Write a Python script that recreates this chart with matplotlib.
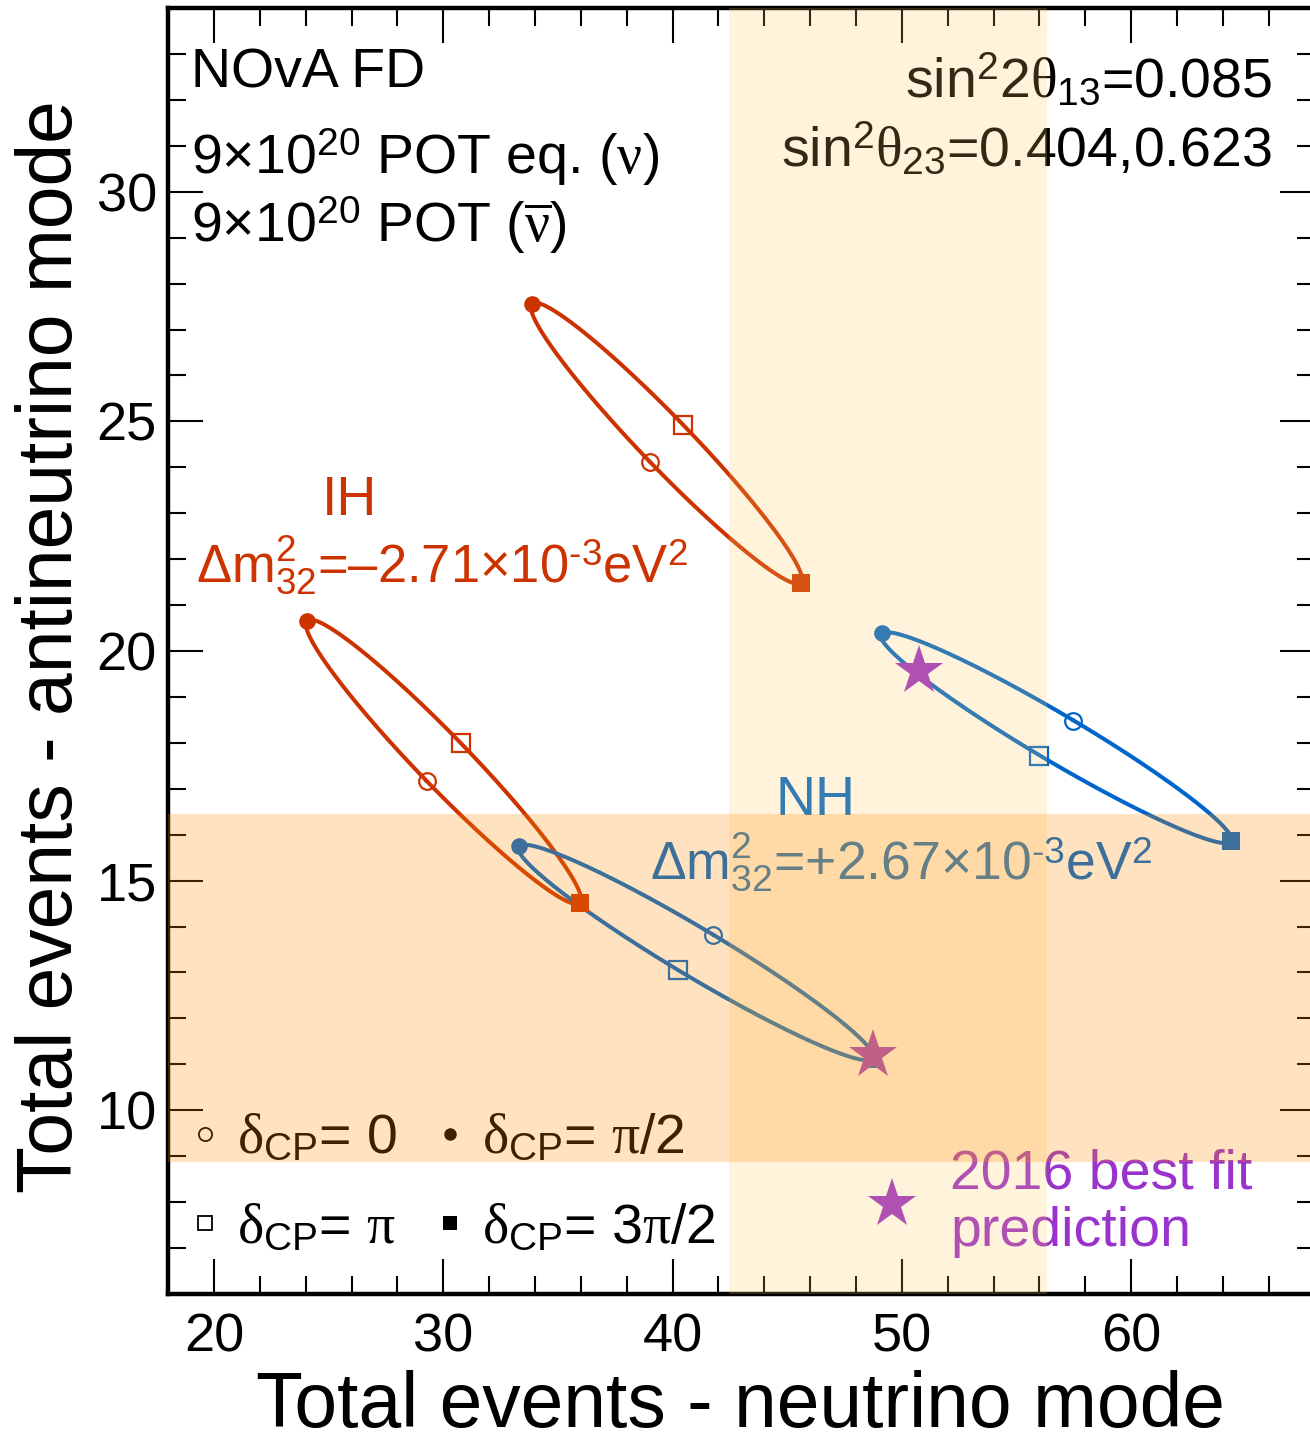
import numpy as np
import matplotlib
matplotlib.use("Agg")
import matplotlib.pyplot as plt
from matplotlib.lines import Line2D
from matplotlib.ticker import MultipleLocator

plt.rcParams['font.family'] = ['Liberation Sans', 'DejaVu Sans']
plt.rcParams['mathtext.fontset'] = 'custom'
plt.rcParams['mathtext.rm'] = 'Liberation Sans'
plt.rcParams['mathtext.sf'] = 'Liberation Sans'
plt.rcParams['mathtext.it'] = 'Liberation Serif'
plt.rcParams['mathtext.bf'] = 'Liberation Sans:bold'

# Predicted total events at delta_CP = 0, pi/2, pi, 3pi/2
ih_upper_nu = [39.01, 33.86, 40.47, 45.60]
ih_upper_nubar = [24.12, 27.56, 24.92, 21.49]
ih_lower_nu = [29.28, 24.04, 30.76, 35.96]
ih_lower_nubar = [17.17, 20.66, 18.00, 14.52]
nh_upper_nu = [57.47, 49.12, 55.99, 64.35]
nh_upper_nubar = [18.48, 20.39, 17.72, 15.86]
nh_lower_nu = [41.78, 33.31, 40.25, 48.72]
nh_lower_nubar = [13.82, 15.75, 13.05, 11.12]

# 2016 best-fit predictions
best_fit_nu = [50.75, 48.73]
best_fit_nubar = [19.56, 11.20]

# Observed ranges (neutrino mode, antineutrino mode)
nu_band = [42.45, 56.35]
nubar_band = [8.87, 16.45]

x_ticks = [20, 30, 40, 50, 60]
y_ticks = [10, 15, 20, 25, 30]

IH_COLOR = '#CC3300'
NH_COLOR = '#0066CC'
FIT_COLOR = '#9933CC'


def ellipse(vals, d):
    """Curve through the four delta_CP points: c + a cos(d) + b sin(d)."""
    v = np.asarray(vals, dtype=float)
    c = v.mean()
    a = (v[0] - v[2]) / 2.0
    b = (v[1] - v[3]) / 2.0
    return c + a * np.cos(d) + b * np.sin(d)


W, H = 1310, 1437
fig = plt.figure(figsize=(W / 100, H / 100), dpi=100)
ax = fig.add_axes([168.1 / W, 1 - 1294 / H, (1314.6 - 168.1) / W, (1294 - 8) / H])
ax.set_xlim(18, 68)
ax.set_ylim(6, 34)

delta = np.linspace(0, 2 * np.pi, 400)
marker_styles = [
    dict(marker='o', mfc='none', ms=12, mew=1.6),
    dict(marker='o', ms=12, mew=0),
    dict(marker='s', mfc='none', ms=12.5, mew=1.6),
    dict(marker='s', ms=13, mew=0),
]

curves = [
    (ih_upper_nu, ih_upper_nubar, IH_COLOR),
    (ih_lower_nu, ih_lower_nubar, IH_COLOR),
    (nh_upper_nu, nh_upper_nubar, NH_COLOR),
    (nh_lower_nu, nh_lower_nubar, NH_COLOR),
]
for nu, nubar, col in curves:
    ax.plot(ellipse(nu, delta), ellipse(nubar, delta), color=col, lw=2.9,
            zorder=3, solid_capstyle='round')
    for i, st in enumerate(marker_styles):
        ax.plot([nu[i]], [nubar[i]], ls='none', color=col, mec=col,
                zorder=4, **st)

ax.plot(best_fit_nu, best_fit_nubar, ls='none', marker='*', ms=37,
        color=FIT_COLOR, mew=0, zorder=5)

# Observed-range bands, laid over everything
ax.axvspan(nu_band[0], nu_band[1], color=(1.0, 0.78, 0.34), alpha=0.206,
           lw=0, zorder=20)
ax.axhspan(nubar_band[0], nubar_band[1], color=(1.0, 0.56, 0.0), alpha=0.245,
           lw=0, zorder=21)

# Axes styling
ax.set_xticks(x_ticks)
ax.set_yticks(y_ticks)
ax.xaxis.set_minor_locator(MultipleLocator(2))
ax.yaxis.set_minor_locator(MultipleLocator(1))
ax.tick_params(which='both', direction='in', top=True, right=True,
               width=1.5, color='k')
ax.tick_params(which='major', length=25.5)
ax.tick_params(which='minor', length=13)
ax.tick_params(axis='x', which='major', labelsize=39, pad=13)
ax.tick_params(axis='y', which='major', labelsize=39, pad=8)
for s in ax.spines.values():
    s.set_linewidth(3.2)

fig.text(740 / W, 1 - 1427 / H, 'Total events - neutrino mode',
         fontsize=55.3, ha='center', va='baseline')
fig.text(72 / W, 1 - 647 / H, 'Total events - antineutrino mode',
         fontsize=55.3, ha='center', va='baseline', rotation=90,
         rotation_mode='anchor')

# Annotations
TXT = 40
ax.text(19.0, 32.26, 'NOvA FD', fontsize=TXT, ha='left', va='baseline')
ax.text(19.0, 30.38, '9\u00d710$^{20}$ POT eq. ($\\nu$)', fontsize=TXT,
        ha='left', va='baseline')
ax.text(19.0, 28.90, '9\u00d710$^{20}$ POT ($\\overline{\\nu}$)', fontsize=TXT,
        ha='left', va='baseline')

ax.text(66.14, 32.06, 'sin$^{2}$2$\\theta_{13}$=0.085', fontsize=TXT,
        ha='right', va='baseline')
ax.text(66.14, 30.55, 'sin$^{2}$$\\theta_{23}$=0.404,0.623', fontsize=TXT,
        ha='right', va='baseline')

ax.text(25.93, 22.96, 'IH', fontsize=TXT, ha='center', va='baseline',
        color=IH_COLOR)
ax.text(19.2, 21.48,
        '$\\Delta\\mathrm{m}^{2}_{32}$=\u20132.71\u00d710$^{\\text{-}3}$eV$^{2}$',
        fontsize=37.8, ha='left', va='baseline', color=IH_COLOR)
ax.text(46.25, 16.43, 'NH', fontsize=TXT, ha='center', va='baseline',
        color=NH_COLOR)
ax.text(39.0, 15.01,
        '$\\Delta\\mathrm{m}^{2}_{32}$=+2.67\u00d710$^{\\text{-}3}$eV$^{2}$',
        fontsize=38.5, ha='left', va='baseline', color=NH_COLOR)

# delta_CP marker legend
handles = [
    Line2D([], [], ls='none', marker='o', mfc='none', mec='k', ms=9.5, mew=1.3),
    Line2D([], [], ls='none', marker='s', mfc='none', mec='k', ms=10, mew=1.3),
    Line2D([], [], ls='none', marker='o', color='k', ms=9, mew=0),
    Line2D([], [], ls='none', marker='s', color='k', ms=10, mew=0),
]
labels = [
    '$\\delta_{\\mathrm{CP}}$= 0',
    '$\\delta_{\\mathrm{CP}}$= $\\pi$',
    '$\\delta_{\\mathrm{CP}}$= $\\pi$/2',
    '$\\delta_{\\mathrm{CP}}$= 3$\\pi$/2',
]
leg1 = ax.legend(handles, labels, ncol=2, loc='upper left',
                 bbox_to_anchor=((191 - 168.1) / 1146.5, (1294 - 1113) / 1286),
                 frameon=False, fontsize=40, handlelength=0.5,
                 handletextpad=0.33, columnspacing=0.7, labelspacing=0.68,
                 borderpad=0, borderaxespad=0)
ax.add_artist(leg1)

star_handle = Line2D([], [], ls='none', marker='*', ms=37, color=FIT_COLOR,
                     mew=0)
leg2 = ax.legend([star_handle], ['2016 best fit\nprediction'], loc='center left',
                 bbox_to_anchor=((867 - 168.1) / 1146.5, (1294 - 1203) / 1286),
                 frameon=False, fontsize=TXT, handlelength=0.9,
                 handletextpad=0.6, borderpad=0, borderaxespad=0,
                 labelcolor=FIT_COLOR)
for t in leg2.get_texts():
    t.set_linespacing(1.13)

fig.savefig('out.png', dpi=100)
